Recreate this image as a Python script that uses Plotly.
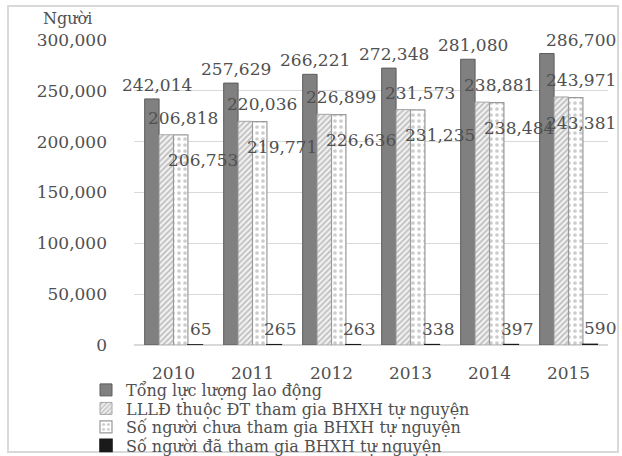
import plotly.graph_objects as go

# Lao động và BHXH tự nguyện, 2010-2015
years = ["2010", "2011", "2012", "2013", "2014", "2015"]
series_names = [
    "Tổng lực lượng lao động",
    "LLLĐ thuộc ĐT tham gia BHXH tự nguyện",
    "Số người chưa tham gia BHXH tự nguyện",
    "Số người đã tham gia BHXH tự nguyện",
]
tong_lao_dong = [242014, 257629, 266221, 272348, 281080, 286700]
doi_tuong_tham_gia = [206818, 220036, 226899, 231573, 238881, 243971]
chua_tham_gia = [206753, 219771, 226636, 231235, 238484, 243381]
da_tham_gia = [65, 265, 263, 338, 397, 590]
y_ticks = [0, 50000, 100000, 150000, 200000, 250000, 300000]

values = [tong_lao_dong, doi_tuong_tham_gia, chua_tham_gia, da_tham_gia]

W, H = 622, 456
M_L, M_R, M_T, M_B = 134, 14, 40, 111
BARGAP = 0.27
SERIF = "DejaVu Serif"
TEXT = "#505050"

styles = [
    dict(color="#808080", line=dict(color="#5c5c5c", width=1)),
    dict(color="#f2f2f2", line=dict(color="#a6a6a6", width=1),
         pattern=dict(shape="/", fgcolor="#8a8a8a", bgcolor="#f2f2f2", size=4, solidity=0.45)),
    dict(color="#ffffff", line=dict(color="#9a9a9a", width=1.2),
         pattern=dict(shape=".", fgcolor="#9a9a9a", bgcolor="#ffffff", size=6, solidity=0.3)),
    dict(color="#1a1a1a", line=dict(color="#1a1a1a", width=1.6)),
]

plot_w = W - M_L - M_R
plot_h = H - M_T - M_B

# one single-item legend per series, stacked under the axis
legend_ids = ["legend", "legend2", "legend3", "legend4"]
legend_rows_px = [390, 408.5, 427, 445.5]   # row centres from the top of the figure
legend_left_px = 86

fig = go.Figure()
for name, vals, st, lid in zip(series_names, values, styles, legend_ids):
    fig.add_trace(go.Bar(x=years, y=vals, name=name, marker=st,
                         cliponaxis=False, legend=lid))

# data labels: offset from each bar's centre (px) per series
cat_w = plot_w / len(years)
bar_w = cat_w * (1 - BARGAP) / len(values)
label_dx = [5, 17, 22, 6]
label_dy = [14, 17, -25, 16]
for s, vals in enumerate(values):
    centre = (s - (len(values) - 1) / 2) * bar_w
    for i, v in enumerate(vals):
        ann = dict(
            y=v, yref="y", text=f"{v:,}", showarrow=False,
            yanchor="middle", yshift=label_dy[s],
            font=dict(family=SERIF, size=17, color=TEXT),
        )
        if i == len(years) - 1:
            # keep the last group's labels inside the chart edge
            ann.update(x=1, xref="paper", xanchor="right", xshift=M_R - 4)
        else:
            ann.update(x=i, xref="x", xanchor="center", xshift=centre + label_dx[s])
        fig.add_annotation(**ann)

fig.add_annotation(
    x=-0.14, y=1.07, xref="paper", yref="paper", text="Người", showarrow=False,
    xanchor="center", yanchor="middle", font=dict(family=SERIF, size=16, color=TEXT),
)

# outer chart frame
fig.add_shape(
    type="rect", xref="paper", yref="paper", layer="below",
    x0=(8 - M_L) / plot_w, x1=(W - 4 - M_L) / plot_w,
    y0=-(H - 4 - (H - M_B)) / plot_h, y1=1 + (M_T - 6) / plot_h,
    line=dict(color="#d9d9d9", width=2),
)

legend_common = dict(
    orientation="v", xanchor="left", yanchor="middle",
    font=dict(family=SERIF, size=16, color=TEXT),
    bgcolor="rgba(0,0,0,0)", itemwidth=30, tracegroupgap=0,
)
legends = {
    lid: dict(legend_common,
              x=(legend_left_px - M_L) / plot_w,
              y=(H - M_B - row) / plot_h)
    for lid, row in zip(legend_ids, legend_rows_px)
}

fig.update_layout(
    width=W, height=H,
    margin=dict(l=M_L, r=M_R, t=M_T, b=M_B, autoexpand=False),
    paper_bgcolor="white", plot_bgcolor="white",
    barmode="group", bargap=BARGAP, bargroupgap=0,
    font=dict(family=SERIF, color=TEXT),
    showlegend=True,
    xaxis=dict(
        type="category", range=[-0.5, len(years) - 0.5],
        showgrid=False, showline=False, ticks="",
        tickfont=dict(family=SERIF, size=17, color=TEXT), ticklabelstandoff=16,
    ),
    yaxis=dict(
        range=[0, 300000], tickvals=y_ticks, tickformat=",",
        showgrid=True, gridcolor="#d9d9d9", gridwidth=1,
        zeroline=True, zerolinecolor="#d9d9d9", showline=False, ticks="",
        tickfont=dict(family=SERIF, size=17, color=TEXT), ticklabelstandoff=26,
    ),
    **legends,
)

fig.write_html("out.html")
